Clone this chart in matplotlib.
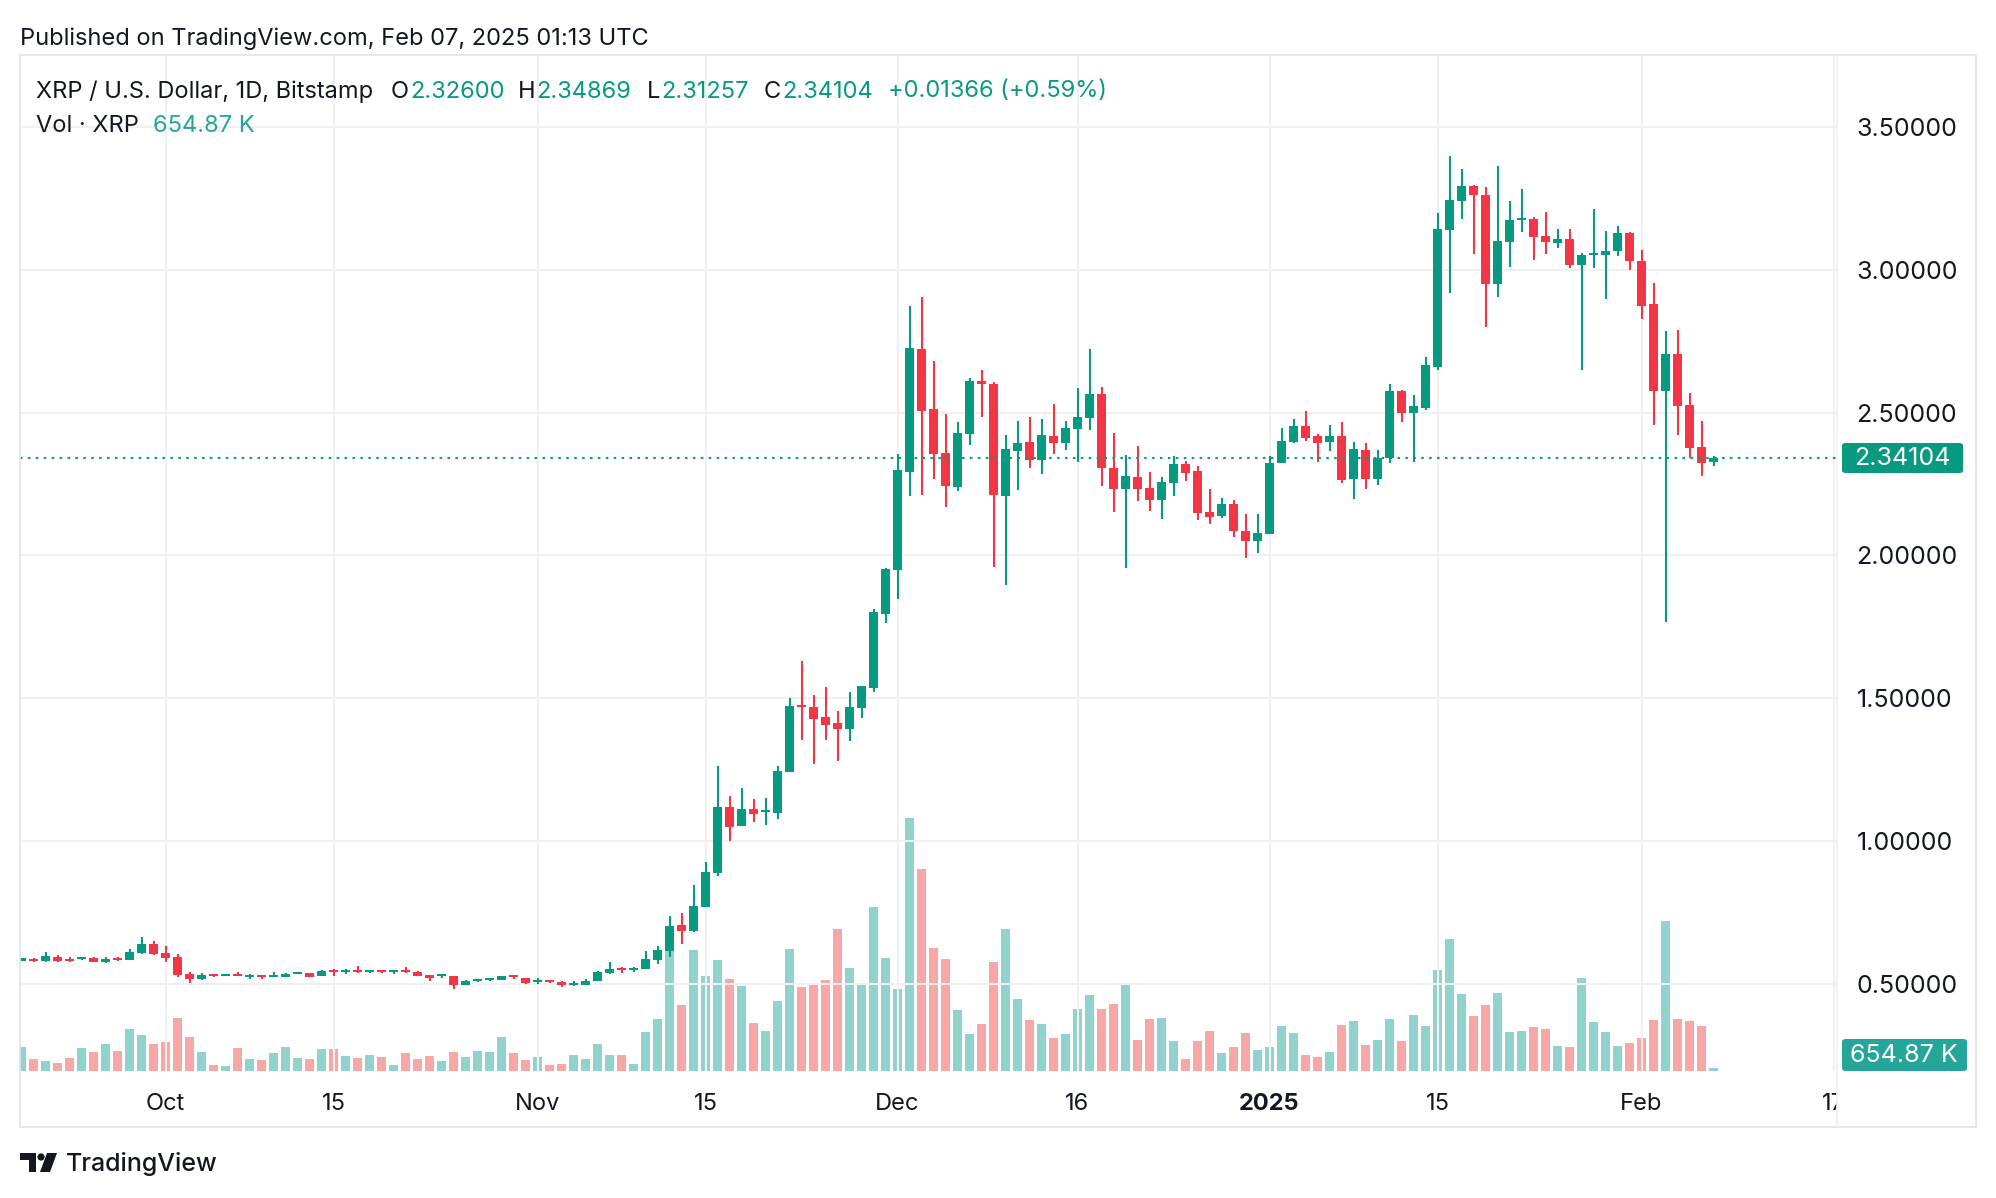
import matplotlib
matplotlib.use('Agg')
import matplotlib.pyplot as plt
import matplotlib.dates as mdates
import matplotlib.patches as mpatches
import matplotlib.transforms as mtransforms
import numpy as np
import pandas as pd

plt.rcParams['font.family'] = ['Inter', 'DejaVu Sans']

# XRP/USD daily, Bitstamp, 2024-09-19 .. 2025-02-07
dates = pd.date_range('2024-09-19', '2025-02-07', freq='D')

opens = [
    # Sep 19-30
    0.582, 0.589, 0.582, 0.596, 0.589, 0.589, 0.592, 0.578, 0.592, 0.585, 0.610, 0.641,
    # Oct
    0.610, 0.596, 0.536, 0.519, 0.536, 0.529, 0.536, 0.526, 0.533, 0.526, 0.526, 0.536, 0.540, 0.529, 0.550, 0.543,
    0.550, 0.543, 0.550, 0.543, 0.550, 0.543, 0.533, 0.529, 0.529, 0.498, 0.512, 0.515, 0.515, 0.533, 0.522,
    # Nov
    0.508, 0.515, 0.508, 0.498, 0.498, 0.512, 0.540, 0.557, 0.550, 0.554, 0.586, 0.617, 0.708, 0.687, 0.771,
    0.890, 1.121, 1.055, 1.114, 1.104, 1.100, 1.244, 1.478, 1.471, 1.436, 1.415, 1.394, 1.468, 1.538, 1.797,
    # Dec
    1.951, 2.293, 2.723, 2.513, 2.359, 2.240, 2.425, 2.611, 2.600, 2.209, 2.366, 2.397, 2.334, 2.418, 2.394, 2.443,
    2.481, 2.565, 2.307, 2.233, 2.275, 2.237, 2.195, 2.254, 2.321, 2.296, 2.153, 2.139, 2.181, 2.086, 2.051,
    # Jan
    2.076, 2.324, 2.398, 2.454, 2.419, 2.398, 2.419, 2.268, 2.370, 2.268, 2.342, 2.576, 2.499, 2.517, 2.660, 3.140,
    3.242, 3.294, 3.263, 2.951, 3.098, 3.175, 3.179, 3.119, 3.095, 3.109, 3.018, 3.053, 3.053, 3.067, 3.130,
    # Feb 1-7
    3.032, 2.881, 2.576, 2.706, 2.527, 2.380, 2.32600,
]
highs = [
    0.592, 0.592, 0.613, 0.603, 0.596, 0.596, 0.596, 0.596, 0.596, 0.624, 0.666, 0.652,
    0.634, 0.606, 0.543, 0.540, 0.536, 0.536, 0.543, 0.536, 0.533, 0.543, 0.540, 0.543, 0.540, 0.550, 0.554, 0.554,
    0.564, 0.550, 0.550, 0.550, 0.561, 0.547, 0.533, 0.536, 0.529, 0.515, 0.519, 0.522, 0.529, 0.533, 0.522,
    0.522, 0.515, 0.512, 0.512, 0.519, 0.547, 0.578, 0.561, 0.561, 0.617, 0.635, 0.740, 0.750, 0.848, 0.929,
    1.265, 1.160, 1.188, 1.149, 1.153, 1.265, 1.503, 1.632, 1.513, 1.541, 1.457, 1.524, 1.545, 1.814, 1.958,
    2.354, 2.873, 2.904, 2.681, 2.495, 2.467, 2.621, 2.649, 2.607, 2.422, 2.471, 2.485, 2.478, 2.530, 2.471, 2.586,
    2.723, 2.590, 2.429, 2.352, 2.383, 2.293, 2.275, 2.349, 2.331, 2.314, 2.233, 2.202, 2.195, 2.146, 2.146,
    2.349, 2.447, 2.478, 2.506, 2.426, 2.457, 2.468, 2.398, 2.394, 2.370, 2.601, 2.580, 2.562, 2.695, 3.200, 3.399,
    3.354, 3.298, 3.291, 3.364, 3.242, 3.284, 3.186, 3.203, 3.144, 3.144, 3.060, 3.214, 3.137, 3.154, 3.133,
    3.070, 2.954, 2.786, 2.790, 2.569, 2.471, 2.34869,
]
lows = [
    0.582, 0.576, 0.578, 0.578, 0.578, 0.583, 0.578, 0.575, 0.582, 0.585, 0.606, 0.603,
    0.578, 0.526, 0.505, 0.515, 0.526, 0.529, 0.529, 0.519, 0.519, 0.526, 0.526, 0.536, 0.526, 0.529, 0.529, 0.536,
    0.540, 0.540, 0.540, 0.536, 0.540, 0.529, 0.512, 0.522, 0.484, 0.498, 0.508, 0.512, 0.515, 0.519, 0.501,
    0.501, 0.505, 0.491, 0.494, 0.498, 0.512, 0.536, 0.540, 0.543, 0.554, 0.572, 0.596, 0.642, 0.684, 0.771,
    0.880, 1.002, 1.055, 1.069, 1.058, 1.079, 1.244, 1.356, 1.272, 1.356, 1.282, 1.352, 1.433, 1.524, 1.765,
    1.849, 2.209, 2.212, 2.268, 2.170, 2.226, 2.387, 2.485, 1.960, 1.897, 2.230, 2.307, 2.286, 2.355, 2.369, 2.328,
    2.439, 2.244, 2.153, 1.957, 2.191, 2.156, 2.128, 2.209, 2.261, 2.125, 2.111, 2.132, 2.065, 1.992, 2.009,
    2.076, 2.324, 2.394, 2.401, 2.328, 2.366, 2.254, 2.198, 2.233, 2.247, 2.324, 2.468, 2.328, 2.510, 2.650, 2.919,
    3.179, 3.056, 2.800, 2.905, 3.011, 3.133, 3.035, 3.056, 3.077, 3.007, 2.650, 3.007, 2.898, 3.049, 3.000,
    2.828, 2.457, 1.768, 2.422, 2.342, 2.279, 2.31257,
]
closes = [
    0.590, 0.582, 0.599, 0.582, 0.582, 0.596, 0.578, 0.589, 0.585, 0.613, 0.641, 0.606,
    0.592, 0.533, 0.519, 0.533, 0.529, 0.536, 0.529, 0.533, 0.526, 0.533, 0.536, 0.543, 0.526, 0.547, 0.543, 0.550,
    0.543, 0.550, 0.543, 0.550, 0.543, 0.529, 0.522, 0.536, 0.498, 0.512, 0.519, 0.522, 0.529, 0.526, 0.505,
    0.515, 0.508, 0.498, 0.505, 0.512, 0.543, 0.554, 0.550, 0.557, 0.589, 0.621, 0.705, 0.687, 0.775, 0.894,
    1.121, 1.051, 1.114, 1.097, 1.111, 1.247, 1.475, 1.471, 1.429, 1.408, 1.394, 1.471, 1.545, 1.804, 1.954,
    2.298, 2.726, 2.506, 2.355, 2.244, 2.429, 2.611, 2.600, 2.212, 2.373, 2.394, 2.334, 2.422, 2.394, 2.446, 2.485,
    2.565, 2.307, 2.233, 2.279, 2.233, 2.195, 2.258, 2.321, 2.289, 2.149, 2.135, 2.181, 2.086, 2.051, 2.079,
    2.324, 2.401, 2.454, 2.412, 2.394, 2.419, 2.265, 2.373, 2.268, 2.342, 2.576, 2.499, 2.524, 2.667, 3.144, 3.245,
    3.294, 3.263, 2.951, 3.102, 3.175, 3.182, 3.116, 3.098, 3.109, 3.018, 3.053, 3.060, 3.067, 3.130, 3.032,
    2.874, 2.576, 2.706, 2.524, 2.377, 2.324, 2.34104,
]
# volume in millions of XRP
volumes = [
    5.7, 2.8, 2.4, 1.9, 3.1, 5.5, 4.5, 6.5, 4.8, 10.1, 8.7, 6.5,
    7.0, 12.8, 8.2, 4.5, 1.4, 1.1, 5.5, 2.8, 2.6, 4.3, 5.7, 3.1, 2.8, 5.3, 5.3, 3.6,
    3.1, 4.0, 3.3, 1.4, 4.3, 2.8, 3.6, 2.4, 4.5, 3.3, 4.8, 4.5, 8.2, 4.3, 2.6,
    3.3, 1.4, 1.6, 4.0, 2.8, 6.5, 4.0, 4.0, 1.6, 9.4, 12.5, 29.3, 15.9, 29.3, 23.0,
    26.8, 22.2, 20.5, 11.6, 9.6, 16.9, 29.5, 20.3, 21.3, 22.0, 34.4, 25.1, 21.3, 39.7, 27.3,
    19.8, 61.3, 48.9, 29.8, 27.1, 14.7, 8.9, 11.3, 26.4, 34.4, 17.4, 12.3, 11.3, 7.9, 8.9, 15.0,
    18.4, 15.0, 16.2, 20.8, 7.4, 12.5, 12.8, 7.2, 2.8, 7.2, 9.6, 4.3, 5.7, 9.1, 5.0,
    5.7, 10.8, 9.1, 3.8, 3.3, 4.5, 11.1, 12.1, 6.2, 7.4, 12.5, 7.2, 13.5, 10.8, 24.4, 31.9,
    18.6, 13.3, 15.9, 18.8, 9.4, 9.6, 10.6, 10.1, 6.0, 5.7, 22.5, 11.8, 9.4, 6.0, 6.7,
    7.9, 12.3, 36.3, 12.5, 12.1, 10.8, 0.65487,
]

price_ticks = [0.5, 1.0, 1.5, 2.0, 2.5, 3.0, 3.5]
time_ticks = [('2024-10-01', 'Oct', False), ('2024-10-15', '15', False), ('2024-11-01', 'Nov', False),
              ('2024-11-15', '15', False), ('2024-12-01', 'Dec', False), ('2024-12-16', '16', False),
              ('2025-01-01', '2025', True), ('2025-01-15', '15', False), ('2025-02-01', 'Feb', False),
              ('2025-02-17', '17', False)]

W, H = 1996, 1198
UP, DOWN = '#089981', '#f23645'
TXT = '#131722'
GRID = '#f0f0f0'
FRAME = '#e0e3eb'
FS = 17


def rect(l, t, r, b):
    return [l / W, 1 - b / H, (r - l) / W, (b - t) / H]


fig = plt.figure(figsize=(W / 100, H / 100), dpi=100)
fig.patch.set_facecolor('white')

x = mdates.date2num(dates)
o, h, l, c = map(np.array, (opens, highs, lows, closes))
up = c >= o
cols = np.where(up, UP, DOWN)

x_oct1 = mdates.date2num(pd.Timestamp('2024-10-01'))
xlim = (x_oct1 - 12.125, x_oct1 + 139.29)

pane = rect(20, 55, 1837, 1071)
ax_vol = fig.add_axes(pane)
ax = fig.add_axes(pane)
ax.patch.set_alpha(0)

# volume underneath
vol_cols = [(0.149, 0.651, 0.604, 0.5) if u else (0.937, 0.325, 0.314, 0.5) for u in up]
ax_vol.bar(x, volumes, width=0.8, color=vol_cols, linewidth=0)
ax_vol.set_xlim(*xlim)
ax_vol.set_ylim(0, 246.4)
ax_vol.axis('off')

# candles
body_lo = np.minimum(o, c)
body_h = np.maximum(np.abs(c - o), 0.004)
ax.vlines(x, l, h, colors=cols, linewidth=1.5, zorder=3)
ax.bar(x, body_h, bottom=body_lo, width=0.8, color=cols, linewidth=0, zorder=4)

ax.set_xlim(*xlim)
ax.set_ylim(0.1963, 3.7512)
ax.set_xticks([mdates.date2num(pd.Timestamp(d)) for d, _, _ in time_ticks])
ax.set_yticks(price_ticks)
ax.grid(True, color=GRID, linewidth=1.5, zorder=0)
ax.set_axisbelow(True)
ax.yaxis.tick_right()
ax.set_yticklabels([f'{p:.5f}' for p in price_ticks])
ax.tick_params(axis='y', length=0, pad=14, labelsize=18, labelcolor=TXT)
ax.tick_params(axis='x', length=0, labelbottom=False)
for s in ax.spines.values():
    s.set_visible(False)

# last price line
last = closes[-1]
ax.axhline(last, color=UP, linewidth=1.5, linestyle=(0, (1.2, 2.6)), zorder=5)

# time axis labels (clipped at the pane edge like the original)
ax_t = fig.add_axes(rect(20, 1071, 1837, 1127))
ax_t.set_xlim(*xlim)
ax_t.set_ylim(0, 1)
ax_t.axis('off')
for d, lab, bold in time_ticks:
    ax_t.text(mdates.date2num(pd.Timestamp(d)), 0.41, lab, ha='center', va='center', fontsize=17,
              color=TXT, fontweight='bold' if bold else 'normal', clip_on=True)

# frame
fig.add_artist(mpatches.Rectangle((20 / W, 1 - 1127 / H), 1956 / W, 1072 / H, transform=fig.transFigure,
                                  fill=False, edgecolor=FRAME, linewidth=1.2))
fig.add_artist(plt.Line2D([1837 / W, 1837 / W], [1 - 55 / H, 1 - 1127 / H], transform=fig.transFigure,
                          color='#f0f0f0', linewidth=1.2))

# price labels on the axis
y_last = ax.transData.transform((xlim[0], last))[1]
fig.add_artist(mpatches.FancyBboxPatch((1842 / W, (y_last - 15) / H), 121 / W, 30 / H,
                                       boxstyle='round,pad=0,rounding_size=0.002', transform=fig.transFigure,
                                       facecolor=UP, edgecolor='none'))
fig.text(1902 / W, y_last / H, f'{last:.5f}', color='white', fontsize=18, ha='center', va='center')

fig.add_artist(mpatches.FancyBboxPatch((1842 / W, 1 - 1071 / H), 125 / W, 32 / H,
                                       boxstyle='round,pad=0,rounding_size=0.002', transform=fig.transFigure,
                                       facecolor='#26a69a', edgecolor='none'))
fig.text(1904 / W, 1 - 1055 / H, f'{volumes[-1] * 1000:.2f} K', color='white', fontsize=18,
         ha='center', va='center')

# header
fig.text(20 / W, 1 - 38.5 / H, 'Published on TradingView.com, Feb 07, 2025 01:13 UTC', fontsize=FS,
         color=TXT, ha='left', va='center')

renderer = fig.canvas.get_renderer()


def label_value(px, py, key, val, col=UP):
    t = fig.text(px / W, 1 - py / H, key, fontsize=FS, color=TXT, ha='left', va='center')
    wk = t.get_window_extent(renderer).width if key else 0
    fig.text((px + wk + 1) / W, 1 - py / H, val, fontsize=FS, color=col, ha='left', va='center')


HY, VY = 91.5, 126.5
fig.text(36 / W, 1 - HY / H, 'XRP / U.S. Dollar, 1D, Bitstamp', fontsize=FS, color=TXT, ha='left', va='center')
label_value(391, HY, 'O', f'{opens[-1]:.5f}')
label_value(518, HY, 'H', f'{highs[-1]:.5f}')
label_value(647, HY, 'L', f'{lows[-1]:.5f}')
label_value(764, HY, 'C', f'{closes[-1]:.5f}')
label_value(887, HY, '', '+0.01366 (+0.59%)')
fig.text(36 / W, 1 - VY / H, 'Vol · XRP', fontsize=FS, color=TXT, ha='left', va='center')
fig.text(153 / W, 1 - VY / H, f'{volumes[-1] * 1000:.2f} K', fontsize=FS, color='#26a69a',
         ha='left', va='center')

# TradingView logo
logo = [
    mpatches.Polygon([(20, 1153), (36, 1153), (36, 1172), (29, 1172), (29, 1160), (20, 1160)]),
    mpatches.Circle((41, 1157), 3.6),
    mpatches.Polygon([(47, 1153), (57, 1153), (50, 1172), (40, 1172)]),
]
for p in logo:
    p.set_transform(mtransforms.Affine2D().scale(1 / W, -1 / H).translate(0, 1) + fig.transFigure)
    p.set_facecolor(TXT)
    p.set_edgecolor('none')
    fig.add_artist(p)
fig.text(66 / W, 1 - 1164 / H, 'TradingView', fontsize=18, color=TXT, ha='left', va='center',
         fontweight='medium')

fig.savefig('out.png', dpi=100, facecolor='white')
